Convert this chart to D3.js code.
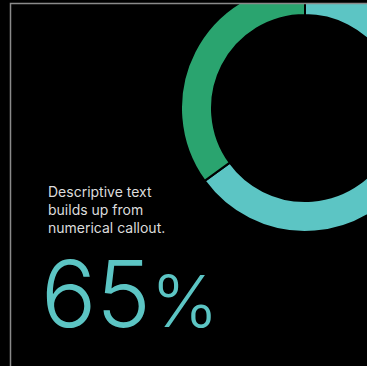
<!DOCTYPE html>
<html>
<head>
<meta charset="utf-8">
<script src="https://cdn.jsdelivr.net/npm/d3@7"></script>
<style>
  html, body { margin: 0; padding: 0; background: #000; }
  svg { display: block; }
</style>
</head>
<body>
<script>
// Data
var labels = ["Highlighted", "Rest"];
var values = [65, 35];
var colors = ["#5cc5c4", "#2aa46f"];
var textLines = ["Descriptive text", "builds up from", "numerical callout."];
var calloutNumber = "65";
var calloutUnit = "%";

var w = 367, h = 366;

var svg = d3.select("body").append("svg")
    .attr("width", w)
    .attr("height", h);

svg.append("rect")
    .attr("width", w).attr("height", h)
    .attr("fill", "#000");

// frame (only left and top show)
var frame = {x: 10.5, y: 3.5};

svg.append("clipPath").attr("id", "clip")
  .append("rect")
    .attr("x", frame.x).attr("y", frame.y)
    .attr("width", w).attr("height", h);

// donut
var pie = d3.pie().sort(null).value(d => d);
var arc = d3.arc().innerRadius(93).outerRadius(124);

var donut = svg.append("g")
    .attr("clip-path", "url(#clip)")
  .append("g")
    .attr("transform", "translate(305,108)");

donut.selectAll("path")
    .data(pie(values))
    .enter()
    .append("path")
    .attr("d", arc)
    .attr("fill", (d, i) => colors[i])
    .attr("stroke", "#000")
    .attr("stroke-width", 2);

// frame lines
svg.append("path")
    .attr("d", `M${frame.x},${h} V${frame.y} H${w}`)
    .attr("fill", "none")
    .attr("stroke", "#8a8a8a")
    .attr("stroke-width", 1.5);

// descriptive text
svg.append("text")
    .attr("x", 48)
    .attr("y", 197)
    .attr("fill", "#dcdcdc")
    .style("font-family", "Inter, 'Noto Sans', sans-serif")
    .style("font-size", "14px")
    .selectAll("tspan")
    .data(textLines)
    .enter()
    .append("tspan")
    .attr("x", 48)
    .attr("dy", (d, i) => i == 0 ? 0 : 18)
    .text(d => d);

// big number
var big = svg.append("text")
    .attr("x", 41)
    .attr("y", 327)
    .attr("fill", colors[0])
    .style("font-family", "Inter, 'Noto Sans', sans-serif")
    .style("font-weight", 300)
    .style("font-size", "92px");

big.append("tspan").text(calloutNumber);
big.append("tspan")
    .style("font-size", "72px")
    .text(calloutUnit);
</script>
</body>
</html>
